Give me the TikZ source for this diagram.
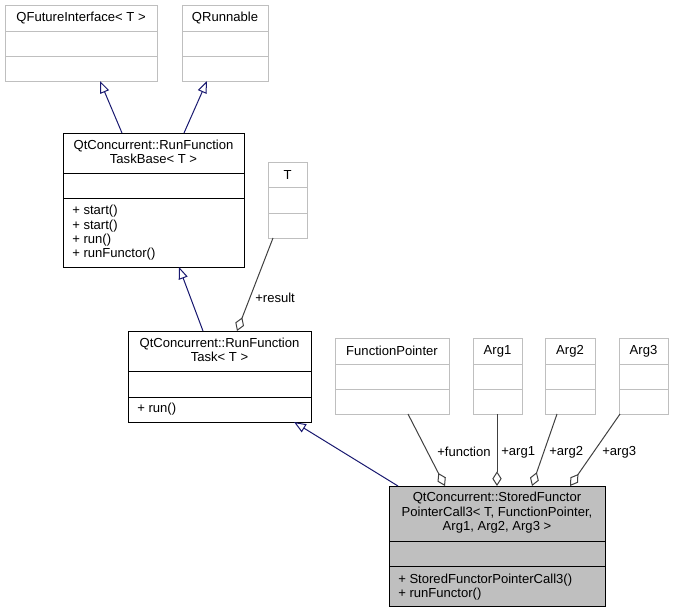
\documentclass[tikz,border=0pt]{standalone}
\usepackage{fontspec}
\setmainfont{Liberation Sans}
\usetikzlibrary{arrows.meta,calc}
\definecolor{lgray}{HTML}{BFBFBF}
\definecolor{genblue}{HTML}{191970}
\definecolor{agggray}{HTML}{404040}
\newcommand\cbox[8]{%
  \node[#2, minimum width={(#5-#3)*0.75pt}, minimum height={(#6-#4)*0.75pt}] (#1) at (#3,#4) {};
  \draw[#2line] (#3,#7) -- (#5,#7);
  \draw[#2line] (#3,#8) -- (#5,#8);
}
\begin{document}
\begin{tikzpicture}[x=0.75pt,y=-0.75pt,
  font=\fontsize{9.8}{10.8}\selectfont,
  cls/.style={draw=black, line width=0.75pt, inner sep=0pt, outer sep=0pt, anchor=north west},
  clsline/.style={draw=black, line width=0.75pt},
  ext/.style={cls, draw=lgray},
  extline/.style={draw=lgray, line width=0.75pt},
  cur/.style={cls, fill=lgray},
  curline/.style={draw=black, line width=0.75pt},
  ttl/.style={align=center, inner sep=0pt},
  mth/.style={align=left, anchor=west, inner sep=0pt},
  gen/.style={draw=genblue, line width=0.75pt, -{Triangle[open,length=9pt,width=7pt]}},
  agg/.style={draw=agggray, line width=0.75pt, {Diamond[open,length=11pt,width=7pt]}-},
  lbl/.style={inner sep=0pt, anchor=west},
]
\useasboundingbox (0,0) rectangle (674,612);

% boxes
\cbox{qfi}{ext}{5}{5}{157}{81}{31}{56}
\node[ttl] (qfit) at (81,18) {QFutureInterface< T >};
\cbox{qrun}{ext}{182}{5}{268}{81}{31}{56}
\node[ttl] (qrunt) at (225,18) {QRunnable};

\cbox{taskbase}{cls}{63}{133}{244}{267}{173}{198}
\node[ttl] (taskbaset) at (153.5,152) {QtConcurrent::RunFunction\\TaskBase< T >};
\node[mth] (taskbasem) at (72,233) {+ start()\\+ start()\\+ run()\\+ runFunctor()};

\cbox{tcls}{ext}{268}{162}{307}{238}{187}{213}
\node[ttl] (tclst) at (287.5,175) {T};

\cbox{task}{cls}{128}{331}{311}{422}{371}{397}
\node[ttl] (taskt) at (219.5,350) {QtConcurrent::RunFunction\\Task< T >};
\node[mth] (taskm) at (137,409) {+ run()};

\cbox{fp}{ext}{335}{338}{449}{414}{364}{389}
\node[ttl] (fpt) at (392,351) {FunctionPointer};
\cbox{arga}{ext}{473}{338}{522}{414}{364}{389}
\node[ttl] (argat) at (497.5,351) {Arg1};
\cbox{argb}{ext}{545}{338}{595}{414}{364}{389}
\node[ttl] (argbt) at (570,351) {Arg2};
\cbox{argc}{ext}{619}{338}{668}{414}{364}{389}
\node[ttl] (argct) at (643.5,351) {Arg3};

\cbox{stored}{cur}{389}{486}{605}{606}{541}{566}
\node[ttl] (storedt) at (497,513) {QtConcurrent::StoredFunctor\\PointerCall3< T, FunctionPointer,\\Arg1, Arg2, Arg3 >};
\node[mth] (storedm) at (398,587) {+ StoredFunctorPointerCall3()\\+ runFunctor()};

% generalizations
\draw[gen] ($(taskbase.north west)+(59,0)$) -- ($(qfi.south west)+(95,0)$);
\draw[gen] ($(taskbase.north west)+(121,0)$) -- ($(qrun.south west)+(25,0)$);
\draw[gen] ($(task.north west)+(75,0)$) -- ($(taskbase.south west)+(116,0)$);
\draw[gen] ($(stored.north west)+(9,0)$) -- ($(task.south west)+(166,0)$);

% aggregations
\draw[agg] ($(task.north west)+(109,0)$) -- ($(tcls.south west)+(5,0)$);
\node[lbl] (lres) at (255,298) {+result};
\draw[agg] ($(stored.north west)+(56,0)$) -- ($(fp.south west)+(73,0)$);
\node[lbl] (lfun) at (437,452) {+function};
\draw[agg] ($(stored.north west)+(108,0)$) -- ($(arga.south west)+(24,0)$);
\node[lbl] (la1) at (501,452) {+arg1};
\draw[agg] ($(stored.north west)+(143,0)$) -- ($(argb.south west)+(12,0)$);
\node[lbl] (la2) at (549,452) {+arg2};
\draw[agg] ($(stored.north west)+(181,0)$) -- ($(argc.south west)+(1,0)$);
\node[lbl] (la3) at (602,452) {+arg3};
\end{tikzpicture}
\end{document}
